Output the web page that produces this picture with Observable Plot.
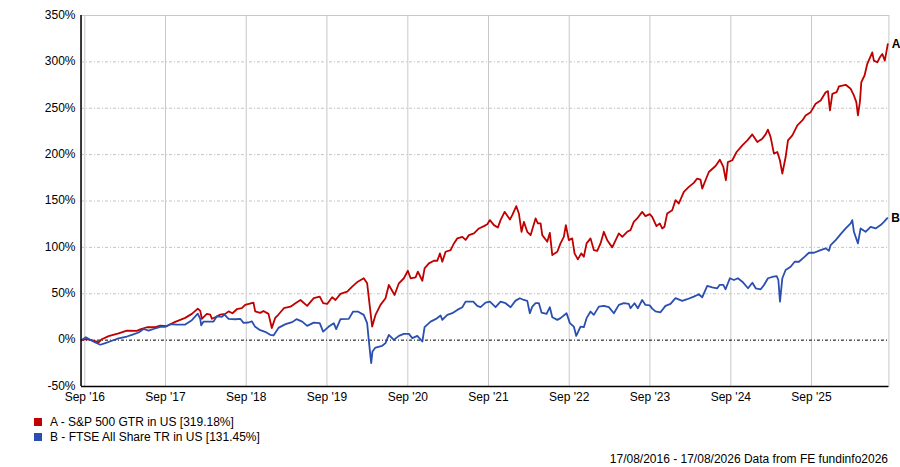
<!DOCTYPE html>
<html>
<head>
<meta charset="utf-8">
<script src="https://cdn.jsdelivr.net/npm/d3@7"></script>
<script src="https://cdn.jsdelivr.net/npm/@observablehq/plot@0.6"></script>
<style>
  body { margin: 0; background: #fff; font-family: "Liberation Sans", Arial, sans-serif; }
  #wrap { position: relative; width: 900px; height: 467px; overflow: hidden; }
  #legend { position: absolute; left: 34px; top: 415px; font-size: 12px; color: #000; }
  .item { display: flex; align-items: center; height: 14.7px; }
  .sw { width: 8px; height: 8px; margin-right: 8px; flex: none; }
  #caption { position: absolute; right: 12px; top: 452px; font-size: 12px; color: #000; }
</style>
</head>
<body>
<div id="wrap">
  <div id="chart"></div>
  <div id="legend"></div>
  <div id="caption"></div>
</div>
<script>
// ---------- DATA ----------
const seriesNames = ["A - S&P 500 GTR in US [319.18%]", "B - FTSE All Share TR in US [131.45%]"];
const seriesKeys = ["A", "B"];
const seriesColors = ["#c00000", "#2b4fb0"];
const captionText = "17/08/2016 - 17/08/2026 Data from FE fundinfo2026";

const yTicks = [-50, 0, 50, 100, 150, 200, 250, 300, 350];
const xTickLabels = ["Sep '16","Sep '17","Sep '18","Sep '19","Sep '20","Sep '21","Sep '22","Sep '23","Sep '24","Sep '25"];
const xTickYears = [2016,2017,2018,2019,2020,2021,2022,2023,2024,2025];
const startDate = "2016-08-17";
const endDate = "2026-08-17";

// decimal years
const redYears = [
2016.626,2016.672,2016.754,2016.837,2016.877,2016.960,2017.084,2017.187,2017.311,2017.353,
2017.435,2017.539,2017.601,2017.682,2017.786,2017.910,2017.992,2018.066,2018.096,2018.116,
2018.178,2018.220,2018.240,2018.289,2018.344,2018.406,2018.447,2018.496,2018.549,2018.611,
2018.653,2018.756,2018.777,2018.839,2018.880,2018.942,2018.983,2019.025,2019.066,2019.132,
2019.214,2019.276,2019.338,2019.421,2019.503,2019.577,2019.619,2019.669,2019.731,2019.772,
2019.834,2019.917,2019.979,2020.048,2020.122,2020.164,2020.197,2020.226,2020.267,2020.329,
2020.391,2020.432,2020.503,2020.556,2020.618,2020.667,2020.701,2020.763,2020.791,2020.846,
2020.874,2020.927,2020.989,2021.031,2021.064,2021.093,2021.134,2021.196,2021.237,2021.279,
2021.341,2021.382,2021.423,2021.485,2021.547,2021.609,2021.651,2021.683,2021.733,2021.782,
2021.815,2021.865,2021.931,2021.960,2022.010,2022.042,2022.075,2022.104,2022.146,2022.187,
2022.208,2022.249,2022.277,2022.311,2022.332,2022.394,2022.426,2022.456,2022.518,2022.558,
2022.599,2022.624,2022.661,2022.703,2022.732,2022.773,2022.815,2022.847,2022.881,2022.930,
2022.971,2023.013,2023.054,2023.095,2023.137,2023.199,2023.281,2023.323,2023.384,2023.425,
2023.466,2023.508,2023.570,2023.611,2023.664,2023.694,2023.747,2023.788,2023.818,2023.846,
2023.880,2023.942,2023.983,2024.024,2024.086,2024.148,2024.209,2024.251,2024.292,2024.313,
2024.354,2024.395,2024.478,2024.531,2024.574,2024.606,2024.630,2024.685,2024.738,2024.809,
2024.871,2024.932,2024.994,2025.056,2025.097,2025.125,2025.159,2025.200,2025.242,2025.274,
2025.304,2025.345,2025.374,2025.428,2025.490,2025.552,2025.593,2025.655,2025.717,2025.779,
2025.841,2025.869,2025.894,2025.924,2025.977,2026.006,2026.089,2026.151,2026.191,2026.221,
2026.241,2026.265,2026.283,2026.323,2026.357,2026.419,2026.438,2026.481,2026.513,2026.543,
2026.574,2026.611];
const redValues = [
0,1,0,-2.4,1,4.3,7.2,10.3,10,11.6,
13.9,13.9,15.6,15.2,19.7,24,28.3,34,31.5,23,
28.3,27.6,23,24.9,27.6,28.3,31,29,33.3,34.4,
38,40.5,31,29.4,31.5,28.3,13,24,27.6,34.4,
36.1,39.8,43.3,36.9,45.2,46.9,39.8,39,46.2,43.3,
49.8,52.3,57.6,63,66.7,61.3,36.1,14.6,27.2,38,
45.2,59.5,48.7,61.3,66.7,74.8,66.7,67.7,73.8,64,
77.4,82.8,85.6,85.6,93.5,84.5,95.3,97.1,104.3,109.7,
111.4,108,113.2,115,120.4,122.9,125,129.4,124,121.5,
129.4,138.3,130.1,134.7,144.4,136.6,116.8,127.5,116.8,113.2,
119.4,131.2,125.8,125.8,113.2,106,115.7,91.7,95.3,104.3,
111.4,124,107.8,109.7,93.5,87.1,93.5,89.9,104.3,109.7,
97.1,96.3,104.3,116.8,107.8,100,115,111.4,116.8,118.6,
127.5,131.2,138.3,133.7,135.8,132.9,122.9,125.8,120.4,122.2,
136.6,140.1,150.9,147.3,159.8,165.2,169.5,174.2,173.1,163.4,
172.4,181.3,187.7,194.6,186.7,172.4,192,193.9,202.8,210,
215.4,221.8,213.6,217.2,221.8,226.9,218.9,201.1,202.8,193.9,
179.6,197.4,215.4,220.8,231.5,236.9,242.3,245.8,254.8,258.4,
267.3,268.4,247.6,265.6,267.3,273.5,275.3,271,263.8,256.6,
242.3,256.6,278.1,285.3,297.9,310.3,301.4,299.6,304.9,308.6,
301.4,319.2];

const blueYears = [
2016.626,2016.679,2016.734,2016.796,2016.858,2016.920,2017.001,2017.084,2017.187,2017.249,
2017.332,2017.394,2017.456,2017.518,2017.601,2017.663,2017.725,2017.806,2017.910,2017.992,
2018.066,2018.096,2018.108,2018.137,2018.261,2018.302,2018.364,2018.397,2018.447,2018.530,
2018.592,2018.632,2018.694,2018.735,2018.777,2018.839,2018.901,2018.963,2019.004,2019.045,
2019.070,2019.153,2019.236,2019.289,2019.360,2019.421,2019.503,2019.577,2019.619,2019.689,
2019.751,2019.781,2019.834,2019.937,2019.991,2020.048,2020.122,2020.164,2020.184,2020.214,
2020.230,2020.267,2020.350,2020.391,2020.432,2020.494,2020.556,2020.618,2020.680,2020.722,
2020.784,2020.846,2020.874,2020.948,2021.010,2021.072,2021.093,2021.155,2021.217,2021.279,
2021.341,2021.382,2021.444,2021.477,2021.526,2021.567,2021.629,2021.683,2021.753,2021.815,
2021.877,2021.939,2022.001,2022.054,2022.104,2022.146,2022.178,2022.208,2022.249,2022.290,
2022.323,2022.385,2022.426,2022.456,2022.518,2022.558,2022.633,2022.674,2022.723,2022.753,
2022.806,2022.847,2022.881,2022.930,2022.971,2023.033,2023.095,2023.157,2023.219,2023.281,
2023.343,2023.405,2023.425,2023.475,2023.516,2023.570,2023.611,2023.664,2023.694,2023.735,
2023.797,2023.859,2023.921,2023.983,2024.066,2024.128,2024.209,2024.271,2024.313,2024.375,
2024.437,2024.499,2024.528,2024.574,2024.602,2024.655,2024.705,2024.754,2024.809,2024.879,
2024.933,2024.974,2025.036,2025.077,2025.126,2025.193,2025.234,2025.255,2025.275,2025.304,
2025.345,2025.407,2025.457,2025.510,2025.572,2025.634,2025.696,2025.779,2025.841,2025.882,
2025.903,2025.965,2026.027,2026.089,2026.151,2026.171,2026.191,2026.241,2026.274,2026.336,
2026.398,2026.460,2026.522,2026.563,2026.605];
const blueValues = [
0,3.2,0.3,-2.5,-5,-3.2,-0.7,1.8,3.9,5.7,
8.2,12,10.3,12,14.3,14.3,17.2,16.8,16.8,21.5,
28.6,23,16,20,20,25.6,25,27.6,23,22.5,
23,18.6,19,20.3,14.3,10.7,9,5.7,5,10.3,
13.5,17.2,19.4,22.6,20,15.4,18.9,18.3,9.2,14.6,
18.3,11.8,22.6,22.9,30.8,30.8,27.2,18.3,0,-24.7,
-12.2,-8,-6.1,-3.2,5.7,0.3,4.6,6.8,6.8,2.2,
4.6,-1.5,14,20,22.6,26.5,21.8,27.2,29,32.6,
35.5,41.5,41.5,41.5,36.9,35.5,40.4,41.5,35.5,41.5,
39.8,35.5,42.6,45.2,43.3,42.3,29,36.1,39.8,39.8,
29.7,28.3,35.5,24.7,21.8,23.7,29,18.3,14.6,4.5,
14.6,14,23.7,30.8,27.2,36.1,36.9,35.5,29,38,
39.8,39,34.4,39.8,34.4,43.3,38,37.5,34,31,
30,36.9,39,45.2,42.3,44.1,46.9,49.5,46.2,58.4,
57,55.9,59.5,59.5,54.8,66.7,64.8,66.7,63,55.9,
61.9,55.9,54.8,59.5,66.7,68.4,69.1,64.8,41.5,66.7,
75.6,79.1,84.5,84.5,89.2,94.2,94.2,97.1,98.9,96.3,
102.5,107.9,114.3,120.4,125.8,129.4,116.8,104.3,120.4,116.8,
122.2,120.4,124,127.5,131.5];

// ---------- BUILD ----------
function decYearToDate(d) {
  const y = Math.floor(d);
  const a = Date.UTC(y, 0, 1), b = Date.UTC(y + 1, 0, 1);
  return new Date(a + (d - y) * (b - a));
}
const rows = [];
[[redYears, redValues], [blueYears, blueValues]].forEach(([ys, vs], i) => {
  const n = Math.min(ys.length, vs.length);
  for (let k = 0; k < n; k++) rows.push({date: decYearToDate(ys[k]), value: vs[k], key: seriesKeys[i]});
});
const lastRows = seriesKeys.map(k => rows.filter(r => r.key === k).at(-1));
const xTicks = xTickYears.map(y => new Date(Date.UTC(y, 8, 1)));
const tickLabelOf = new Map(xTicks.map((d, i) => [+d, xTickLabels[i]]));
const x0 = new Date(startDate), x1 = new Date(endDate);
const gridY = yTicks.filter(v => v > 0 && v < 350);

const chart = Plot.plot({
  width: 900,
  height: 405,
  marginLeft: 81,
  marginRight: 11.6,
  marginTop: 15,
  marginBottom: 19,
  style: {fontFamily: '"Liberation Sans", Arial, sans-serif', fontSize: "12px", color: "#000", background: "#fff", overflow: "visible"},
  x: {type: "utc", domain: [x0, x1], label: null},
  y: {domain: [-50, 350], label: null},
  color: {domain: seriesKeys, range: seriesColors},
  marks: [
    Plot.frame({stroke: "#c8c8c8"}),
    Plot.ruleX(xTicks, {stroke: "#c8c8c8", strokeWidth: 1}),
    Plot.ruleY(gridY, {stroke: "#c4c4c4", strokeDasharray: "3,2,1,2", strokeWidth: 1}),
    Plot.ruleY([0], {stroke: "#000", strokeDasharray: "3,2,1,2", strokeWidth: 1}),
    Plot.line(rows, {x: "date", y: "value", z: "key", stroke: "key", strokeWidth: 1.8}),
    Plot.ruleX([x0], {stroke: "#000", strokeWidth: 1.5, dx: -0.5}),
    Plot.ruleY([-50], {stroke: "#000", strokeWidth: 1.5}),
    Plot.axisY({ticks: yTicks, tickFormat: d => d + "%", tickSize: 0, tickPadding: 6, fontSize: 12, label: null, dy: -0.5}),
    Plot.axisX({ticks: xTicks, tickFormat: d => tickLabelOf.get(+d), tickSize: 0, tickPadding: 6, fontSize: 12, label: null}),
    Plot.text(lastRows, {x: "date", y: "value", text: "key", dx: 4, textAnchor: "start", fontWeight: "bold", fontSize: 12, fill: "#000"})
  ]
});
document.getElementById("chart").appendChild(chart);

const legend = document.getElementById("legend");
seriesNames.forEach((name, i) => {
  const item = document.createElement("div");
  item.className = "item";
  const sw = document.createElement("span");
  sw.className = "sw";
  sw.style.background = seriesColors[i];
  const t = document.createElement("span");
  t.textContent = name;
  item.appendChild(sw); item.appendChild(t);
  legend.appendChild(item);
});
document.getElementById("caption").textContent = captionText;
</script>
</body>
</html>
